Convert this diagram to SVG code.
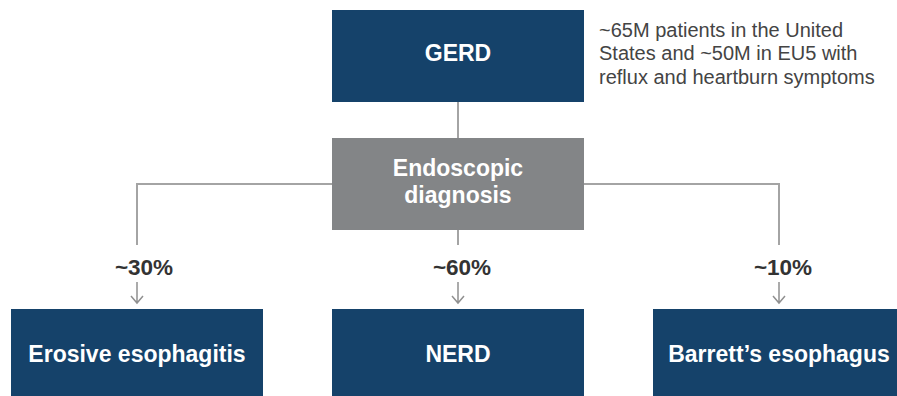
<svg xmlns="http://www.w3.org/2000/svg" width="897" height="396" viewBox="0 0 897 396">
<style>
.box{fill:#15426a}
.gray{fill:#838587}
.t{font-family:"Liberation Sans",Arial,sans-serif;font-weight:bold;fill:#fff;text-anchor:middle;font-size:23px}
.pct{font-family:"Liberation Sans",Arial,sans-serif;font-weight:bold;fill:#333;text-anchor:middle;font-size:22.5px}
.note{font-family:"Liberation Sans",Arial,sans-serif;fill:#444;font-size:20px}
.ln{stroke:#a4a4a4;stroke-width:2;fill:none}
.ar{stroke:#909090;stroke-width:1.5;fill:none}
</style>
<rect width="897" height="396" fill="#fff"/>
<g id="connectors">
<path class="ln" d="M458 102V138"/>
<path class="ln" d="M333 184H137V245"/>
<path class="ln" d="M584 184H779V245"/>
<path class="ln" d="M458 230V245"/>
<path class="ar" d="M137 282V303M131 296L137 303L143 296"/>
<path class="ar" d="M458 282V303M452 296L458 303L464 296"/>
<path class="ar" d="M779 282V303M773 296L779 303L785 296"/>
<text class="pct" x="144" y="275">~30%</text>
<text class="pct" x="462" y="275">~60%</text>
<text class="pct" x="783" y="275">~10%</text>
</g>
<g id="gerd">
<rect class="box" x="332" y="10" width="252" height="92"/>
<text class="t" x="458" y="61">GERD</text>
</g>
<g id="note">
<text class="note" x="599" y="37">~65M patients in the United</text>
<text class="note" x="599" y="60">States and ~50M in EU5 with</text>
<text class="note" x="599" y="84">reflux and heartburn symptoms</text>
</g>
<g id="endoscopic">
<rect class="gray" x="332" y="138" width="252" height="92"/>
<text class="t" x="458" y="176">Endoscopic</text>
<text class="t" x="458" y="203">diagnosis</text>
</g>
<g id="erosive">
<rect class="box" x="11" y="309" width="252" height="92"/>
<text class="t" x="137" y="362">Erosive esophagitis</text>
</g>
<g id="nerd">
<rect class="box" x="332" y="309" width="252" height="92"/>
<text class="t" x="458" y="362">NERD</text>
</g>
<g id="barrett">
<rect class="box" x="653" y="309" width="252" height="92"/>
<text class="t" x="779" y="362">Barrett’s esophagus</text>
</g>
</svg>
